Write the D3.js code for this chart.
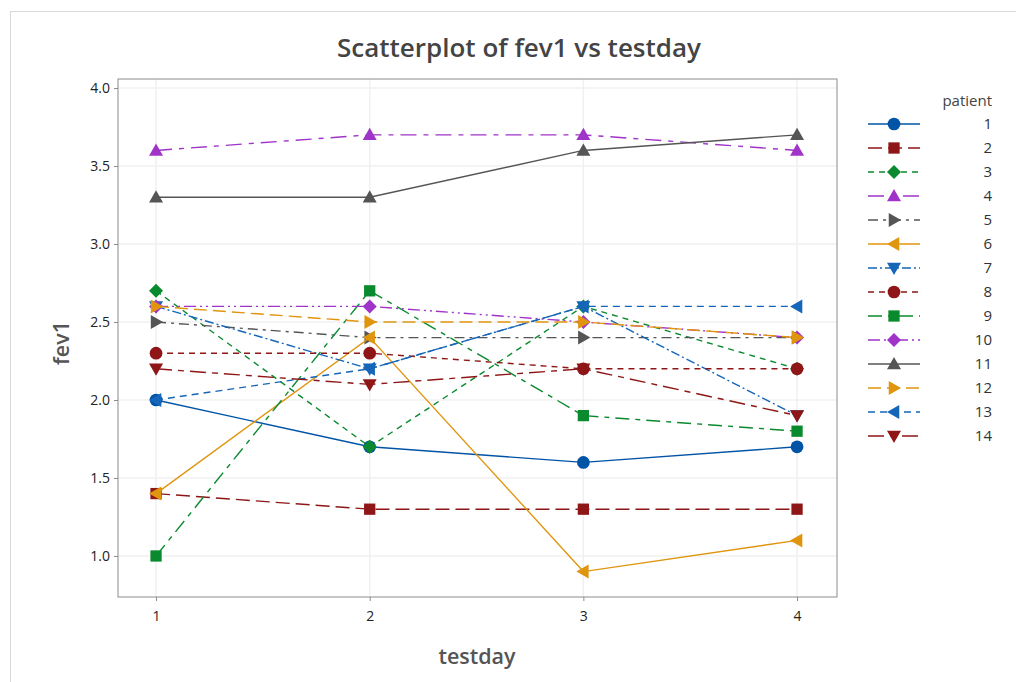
<!DOCTYPE html>
<style>
body {
  margin: 0;
  font-family: 'Open Sans', sans-serif;
  background: #fff;
}
.axis .domain {
  display: none;
}
</style>
<svg width="1016" height="682"></svg>
<script src="https://d3js.org/d3.v7.min.js"></script>
<script>
// data
var testdays = [1, 2, 3, 4];
var patients = ["1", "2", "3", "4", "5", "6", "7", "8", "9", "10", "11", "12", "13", "14"];
var fev1 = [
  [2.0, 1.7, 1.6, 1.7],
  [1.4, 1.3, 1.3, 1.3],
  [2.7, 1.7, 2.6, 2.2],
  [3.6, 3.7, 3.7, 3.6],
  [2.5, 2.4, 2.4, 2.4],
  [1.4, 2.4, 0.9, 1.1],
  [2.6, 2.2, 2.6, 1.9],
  [2.3, 2.3, 2.2, 2.2],
  [1.0, 2.7, 1.9, 1.8],
  [2.6, 2.6, 2.5, 2.4],
  [3.3, 3.3, 3.6, 3.7],
  [2.6, 2.5, 2.5, 2.4],
  [2.0, 2.2, 2.6, 2.6],
  [2.2, 2.1, 2.2, 1.9]
];
var yTicks = [1.0, 1.5, 2.0, 2.5, 3.0, 3.5, 4.0];

var colors = ["#0054a6", "#8e1616", "#0a8a2e", "#a033c8", "#555555", "#e0950f", "#1565b8",
              "#8e1616", "#0a8a2e", "#a033c8", "#555555", "#e0950f", "#1565b8", "#8e1616"];
var shapes = [d3.symbolCircle, d3.symbolSquare, "diamond", "up", "right", "left", "down",
              d3.symbolCircle, d3.symbolSquare, "diamond", "up", "right", "left", "down"];
var dashes = ["", "14,6", "6,5", "16,7,5,7", "10,5,3,5", "", "9,3,2,3",
              "6,5", "14,6,5,6", "12,4,2,4,2,4", "", "13,6", "7,5", "16,6,6,6"];

var svg = d3.select("svg");

// outer frame
svg.append("rect")
    .attr("x", 10.5).attr("y", 11.5)
    .attr("width", 1010).attr("height", 680)
    .attr("fill", "none").attr("stroke", "#d9d9d9");

var plotLeft = 118, plotRight = 837, plotTop = 79, plotBottom = 597;

var x = d3.scaleLinear().domain([0.822, 4.187]).range([plotLeft, plotRight]);
var y = d3.scaleLinear().domain([0.737, 4.058]).range([plotBottom, plotTop]);

// gridlines
svg.append("g").selectAll("line").data(yTicks).enter().append("line")
    .attr("x1", plotLeft).attr("x2", plotRight)
    .attr("y1", function(d) { return y(d); }).attr("y2", function(d) { return y(d); })
    .attr("stroke", "#f0f0f0").attr("stroke-width", 1.5);
svg.append("g").selectAll("line").data(testdays).enter().append("line")
    .attr("y1", plotTop).attr("y2", plotBottom)
    .attr("x1", function(d) { return x(d); }).attr("x2", function(d) { return x(d); })
    .attr("stroke", "#f0f0f0").attr("stroke-width", 1.5);

// plot frame
svg.append("rect")
    .attr("x", plotLeft).attr("y", plotTop)
    .attr("width", plotRight - plotLeft).attr("height", plotBottom - plotTop)
    .attr("fill", "none").attr("stroke", "#8c8c8c");

// axes
var yAxis = svg.append("g")
    .attr("class", "axis")
    .attr("transform", "translate(" + plotLeft + ",0)")
    .call(d3.axisLeft(y).tickValues(yTicks).tickFormat(d3.format(".1f")).tickSize(4));
var xAxis = svg.append("g")
    .attr("class", "axis")
    .attr("transform", "translate(0," + plotBottom + ")")
    .call(d3.axisBottom(x).tickValues(testdays).tickFormat(d3.format("d")).tickSize(4));
svg.selectAll(".axis text")
    .attr("font-family", "'Open Sans', sans-serif")
    .attr("font-size", 14)
    .attr("fill", "#222");
svg.selectAll(".axis .tick line").attr("stroke", "#8c8c8c");
yAxis.selectAll("text").attr("x", -8);
xAxis.selectAll("text").attr("y", 14);

// titles
svg.append("text")
    .attr("x", 519).attr("y", 57)
    .attr("text-anchor", "middle")
    .attr("font-size", 26)
    .attr("font-weight", 600)
    .attr("fill", "#444")
    .text("Scatterplot of fev1 vs testday");
svg.append("text")
    .attr("x", 477).attr("y", 664)
    .attr("text-anchor", "middle")
    .attr("font-size", 21.5)
    .attr("font-weight", 600)
    .attr("fill", "#555")
    .text("testday");
svg.append("text")
    .attr("transform", "translate(69,343) rotate(-90)")
    .attr("text-anchor", "middle")
    .attr("font-size", 21.5)
    .attr("font-weight", 600)
    .attr("fill", "#555")
    .text("fev1");

// marker path
function marker(shape, s) {
  if (shape === "diamond") return "M0," + (-s) + "L" + s + ",0L0," + s + "L" + (-s) + ",0Z";
  if (shape === "up") return "M0," + (-s) + "L" + s + "," + (s * 0.75) + "L" + (-s) + "," + (s * 0.75) + "Z";
  if (shape === "down") return "M0," + s + "L" + s + "," + (-s * 0.75) + "L" + (-s) + "," + (-s * 0.75) + "Z";
  if (shape === "right") return "M" + s + ",0L" + (-s * 0.75) + "," + (-s) + "L" + (-s * 0.75) + "," + s + "Z";
  if (shape === "left") return "M" + (-s) + ",0L" + (s * 0.75) + "," + (-s) + "L" + (s * 0.75) + "," + s + "Z";
  return d3.symbol().type(shape).size(s * s * 2.6)();
}

var line = d3.line()
    .x(function(d, i) { return x(testdays[i]); })
    .y(function(d) { return y(d); });

var series = svg.append("g").selectAll("g")
    .data(fev1)
    .enter().append("g");

series.append("path")
    .attr("d", line)
    .attr("fill", "none")
    .attr("stroke", function(d, i) { return colors[i]; })
    .attr("stroke-width", 1.4)
    .attr("stroke-dasharray", function(d, i) { return dashes[i]; });

series.each(function(vals, i) {
  d3.select(this).selectAll(".pt")
    .data(vals)
    .enter().append("path")
      .attr("class", "pt")
      .attr("transform", function(d, j) { return "translate(" + x(testdays[j]) + "," + y(d) + ")"; })
      .attr("d", marker(shapes[i], 7))
      .attr("fill", colors[i]);
});

// legend
svg.append("text")
    .attr("x", 992).attr("y", 106)
    .attr("text-anchor", "end")
    .attr("font-size", 15)
    .attr("fill", "#444")
    .text("patient");

var legend = svg.append("g").selectAll("g")
    .data(patients)
    .enter().append("g")
      .attr("transform", function(d, i) { return "translate(0," + (124 + i * 24) + ")"; });

legend.append("line")
    .attr("x1", 868).attr("x2", 920)
    .attr("stroke", function(d, i) { return colors[i]; })
    .attr("stroke-width", 1.4)
    .attr("stroke-dasharray", function(d, i) { return dashes[i]; });
legend.append("path")
    .attr("transform", "translate(894,0)")
    .attr("d", function(d, i) { return marker(shapes[i], 7); })
    .attr("fill", function(d, i) { return colors[i]; });
legend.append("text")
    .attr("x", 992)
    .attr("dy", "0.35em")
    .attr("text-anchor", "end")
    .attr("font-size", 15)
    .attr("fill", "#333")
    .text(function(d) { return d; });
</script>
